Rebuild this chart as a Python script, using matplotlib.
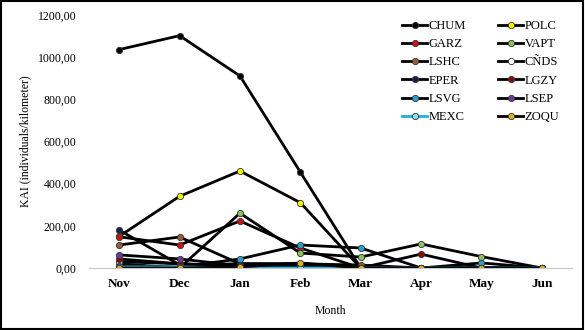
import numpy as np
import matplotlib.pyplot as plt
from matplotlib.patches import Rectangle
from matplotlib.ticker import FuncFormatter

plt.rcParams['font.family'] = ['Liberation Serif', 'DejaVu Serif']

months = ['Nov', 'Dec', 'Jan', 'Feb', 'Mar', 'Apr', 'May', 'Jun']

# KAI values per site (individuals/kilometer)
chum = [1036, 1102, 911, 455, 0, 0, 0, 0]
polc = [150, 340, 460, 310, 0, 0, 0, 0]
garz = [148, 109, 223, 95, 0, 0, 0, 0]
vapt = [20, 0, 260, 71, 52, 114, 54, 0]
lshc = [109, 147, 20, 20, 14, 0, 0, 0]
cnds = [30, 20, 10, 10, 0, 0, 0, 0]
eper = [180, 15, 20, 20, 0, 0, 0, 0]
lgzy = [43, 20, 10, 20, 0, 66, 0, 0]
lsvg = [9, 5, 43, 109, 95, 0, 24, 0]
lsep = [62, 43, 10, 20, 0, 0, 0, 0]
mexc = [5, 5, 0, 0, 0, 0, 0, 0]
zoqu = [0, 0, 5, 24, 0, 0, 0, 0]

names = ['CHUM', 'POLC', 'GARZ', 'VAPT', 'LSHC', 'CÑDS',
         'EPER', 'LGZY', 'LSVG', 'LSEP', 'MEXC', 'ZOQU']
series = [chum, polc, garz, vapt, lshc, cnds, eper, lgzy, lsvg, lsep, mexc, zoqu]
face = ['black', '#f2f200', '#d01010', '#8fbf5f', '#9a5a3a', 'white',
        '#0f1f4f', '#8b0a0a', '#2a9fd0', '#6a3a9a', '#8fe0e0', '#e0b020']
line_col = ['black'] * 10 + ['#20b0e0', 'black']

fig = plt.figure(figsize=(5.85, 3.3), dpi=100)
ax = fig.add_axes([89/585, 62/330, (572-89)/585, 253/330])

x = np.arange(len(months))
handles = []
for s, nm, fc, lc in zip(series, names, face, line_col):
    h, = ax.plot(x, s, color=lc, lw=2.0, marker='o', ms=4.5,
                 mfc=fc, mec='#333333', mew=0.6, label=nm)
    handles.append(h)

ax.set_xlim(-0.5, 7.5)
ax.set_ylim(0, 1200)
ax.set_yticks(np.arange(0, 1201, 200))
ax.yaxis.set_major_formatter(FuncFormatter(lambda v, p: f'{v:.2f}'.replace('.', ',')))
ax.set_xticks(x)
ax.set_xticklabels(months, fontweight='bold', fontsize=9.5)
ax.tick_params(axis='y', labelsize=8.5, length=0, pad=9)
ax.tick_params(axis='x', length=0, pad=7)
for sp in ['top', 'right', 'left']:
    ax.spines[sp].set_visible(False)
ax.spines['bottom'].set_color('#c8c8c8')
ax.spines['bottom'].set_linewidth(0.8)

ax.set_ylabel('KAI (individuals/kilometer)', fontsize=8.5, labelpad=5)
ax.set_xlabel('Month', fontsize=8.5, labelpad=11)

order = [0, 2, 4, 6, 8, 10, 1, 3, 5, 7, 9, 11]
ax.legend([handles[i] for i in order], [names[i] for i in order], ncol=2,
          loc='upper left', bbox_to_anchor=(0.625, 1.025), frameon=False,
          fontsize=9, handlelength=2.0, handletextpad=0.1,
          columnspacing=2.6, labelspacing=0.5)

fig.patches.append(Rectangle((0.002, 0.004), 0.994, 0.992, transform=fig.transFigure,
                             fill=False, edgecolor='black', lw=1.5))

fig.savefig('out.png', dpi=100)
